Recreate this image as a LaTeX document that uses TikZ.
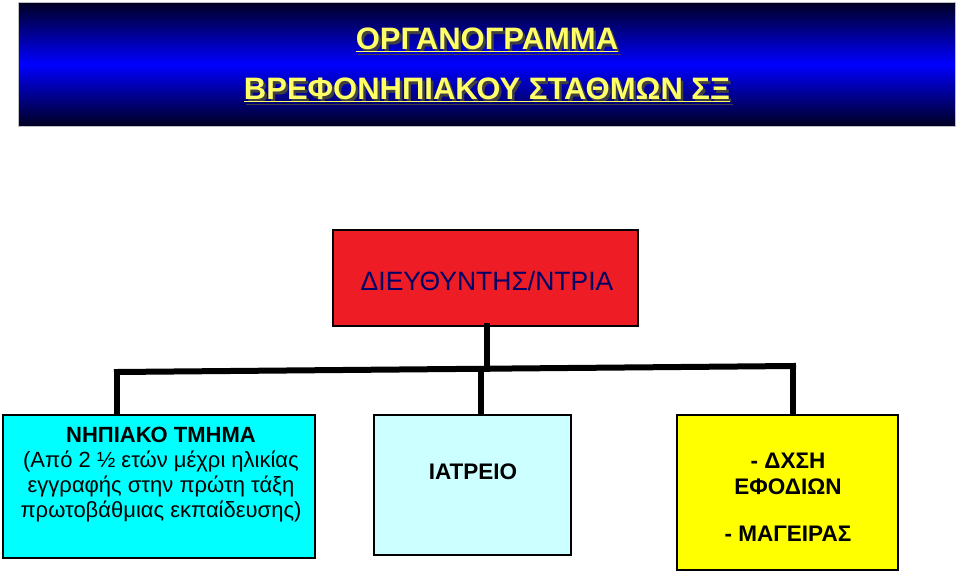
\documentclass[tikz,border=0pt]{standalone}
\usepackage{fontspec}
\setmainfont{Liberation Sans}
\definecolor{dirred}{HTML}{EE1C25}
\definecolor{navy}{HTML}{000066}
\definecolor{cy}{HTML}{00FFFF}
\definecolor{lcy}{HTML}{CCFFFF}
\definecolor{yl}{HTML}{FFFF00}
\definecolor{ttlyel}{HTML}{FFFF66}
\definecolor{bblue}{HTML}{0000FF}
\definecolor{dblue}{HTML}{000022}
\tikzset{
 box/.style={draw=black, line width=1.2pt},
 conn/.style={line width=6pt, line cap=rect},
 ttl/.style={text=ttlyel, font=\bfseries\fontsize{31}{34}\selectfont, inner sep=0},
 txt/.style={align=center, font=\fontsize{22}{25}\selectfont}
}
\begin{document}
\begin{tikzpicture}[x=1pt,y=-1pt]
\useasboundingbox (0,0) rectangle (959,576);
% banner
\shade[top color=dblue, bottom color=dblue, middle color=bblue] (18,2) rectangle (955,126);
\draw[gray!50, line width=1pt] (18,2) rectangle (955,126);
\node[ttl, text=black!75] at (489.5,42.5) {\underline{ΟΡΓΑΝΟΓΡΑΜΜΑ}};
\node[ttl] (t1) at (487,40) {\underline{ΟΡΓΑΝΟΓΡΑΜΜΑ}};
\node[ttl, text=black!75] at (489.5,92.5) {\underline{ΒΡΕΦΟΝΗΠΙΑΚΟΥ ΣΤΑΘΜΩΝ ΣΞ}};
\node[ttl] (t2) at (487,90) {\underline{ΒΡΕΦΟΝΗΠΙΑΚΟΥ ΣΤΑΘΜΩΝ ΣΞ}};
% director
\filldraw[box, fill=dirred] (333,230) rectangle (638,326);
\node[txt, text=navy, font=\fontsize{26.5}{30}\selectfont] (dir) at (487,281) {ΔΙΕΥΘΥΝΤΗΣ/ΝΤΡΙΑ};
\coordinate (dirb) at (487,326);
\coordinate (bus) at (487,369);
\coordinate (bl) at (117,372);
\coordinate (br) at (793,366);
\coordinate (lt) at (117,415);
\coordinate (mt) at (481,415);
\coordinate (rt) at (793,415);
\draw[conn] (dirb) -- (bus);
\draw[conn] (bl) -- (br);
\draw[conn] (bl) -- (lt);
\draw[conn] (481,369) -- (mt);
\draw[conn] (br) -- (rt);
% boxes
\filldraw[box, fill=cy] (3,415) rectangle (315,558);
\filldraw[box, fill=lcy] (374,415) rectangle (571,555);
\filldraw[box, fill=yl] (677,415) rectangle (898,570);
\node[txt] (nip) at (161,475) {\textbf{ΝΗΠΙΑΚΟ ΤΜΗΜΑ}\\(Από 2 ½ ετών μέχρι ηλικίας\\εγγραφής στην πρώτη τάξη\\πρωτοβάθμιας εκπαίδευσης)};
\node[txt, font=\bfseries\fontsize{22.5}{26}\selectfont] (iat) at (473,472) {ΙΑΤΡΕΙΟ};
\node[txt, font=\bfseries\fontsize{22.5}{26}\selectfont] (sup) at (788,497) {- ΔΧΣΗ\\ΕΦΟΔΙΩΝ\\[21pt]- ΜΑΓΕΙΡΑΣ};
\end{tikzpicture}
\end{document}
